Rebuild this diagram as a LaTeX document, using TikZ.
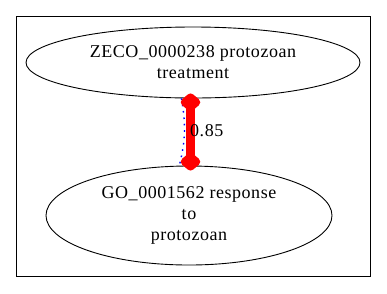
\documentclass[tikz,border=0pt]{standalone}
\usepackage{fontspec}
\setmainfont{Liberation Serif}
\newfontfamily\labelfont[LetterSpace=3]{Liberation Serif}
\usetikzlibrary{arrows.meta,shapes.geometric}
\begin{document}
\begin{tikzpicture}[x=1pt,y=-1pt,
  term/.style={draw=black, ellipse, line width=0.9pt, inner sep=0pt, font=\labelfont\fontsize{18}{21}\selectfont, align=center},
  weight/.style={inner sep=0pt, anchor=west, font=\labelfont\fontsize{18}{20}\selectfont},
  simtip/.tip={Diamond[length=20pt,width=24pt,line join=round,round]},
  simedge/.style={draw=red, fill=red, line width=9.5pt, line join=round, simtip-simtip},
  altedge/.style={draw=blue, line width=1.4pt, dash pattern=on 1.6pt off 4.8pt}]
  \useasboundingbox (0,0) rectangle (387,293);
  \draw[line width=0.9pt] (16,16) rectangle (370,276);
  \node[term, minimum width=334pt, minimum height=71pt] (zeco) at (193,62.5)
    {ZECO\_0000238 protozoan\\treatment};
  \node[term, minimum width=286pt, minimum height=99pt] (go) at (189,215.5)
    {GO\_0001562 response\\to\\protozoan};
  \coordinate (axis) at (190.5,131);
  \draw[altedge] (zeco.252) to[bend left=12] (go.101);
  \draw[simedge, shorten <=-5pt, shorten >=-5pt] (zeco.south -| axis) -- (go.north -| axis);
  \node[weight] (w) at (190,131) {0.85};
\end{tikzpicture}
\end{document}
